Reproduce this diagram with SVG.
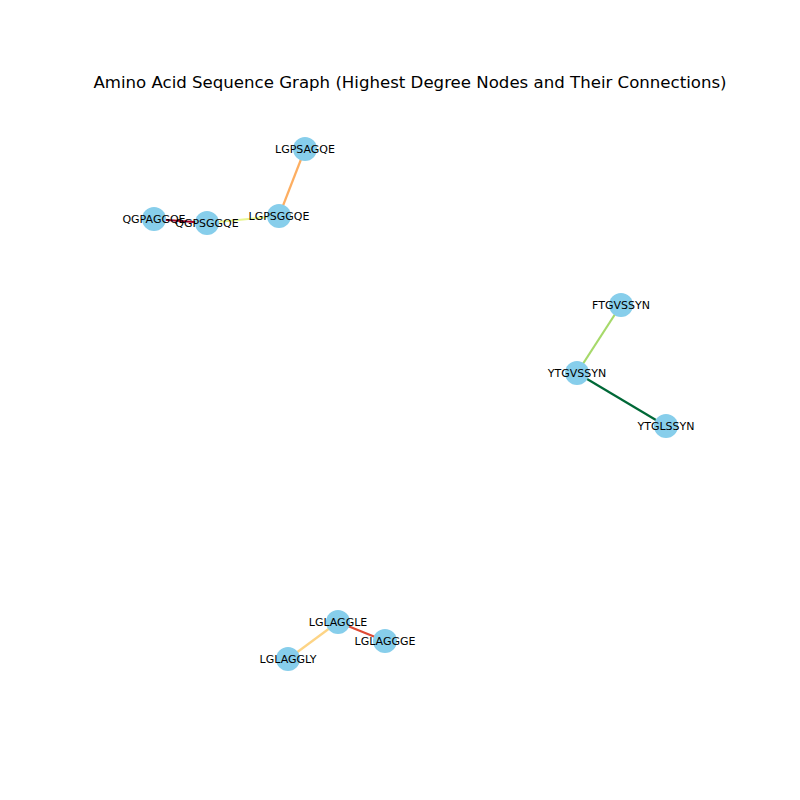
<svg xmlns="http://www.w3.org/2000/svg" width="800" height="800" viewBox="0 0 800 800">
<style>
.n{fill:#87ceeb}
.l{font-family:"DejaVu Sans",sans-serif;font-size:11px;fill:#000;text-anchor:middle;dominant-baseline:central}
.e{stroke-width:2.2;fill:none}
.t{font-family:"DejaVu Sans",sans-serif;font-size:16.6px;fill:#000;text-anchor:middle}
</style>
<rect width="800" height="800" fill="#fff"/>
<text class="t" x="410" y="88">Amino Acid Sequence Graph (Highest Degree Nodes and Their Connections)</text>
<g id="edges">
<line class="e" x1="154" y1="219" x2="207" y2="223" stroke="#a50026"/>
<line class="e" x1="207" y1="223" x2="279" y2="216" stroke="#e8f58f"/>
<line class="e" x1="279" y1="216" x2="305" y2="149" stroke="#fdae61"/>
<line class="e" x1="621" y1="305" x2="577" y2="373" stroke="#a6d96a"/>
<line class="e" x1="577" y1="373" x2="666" y2="426" stroke="#006837"/>
<line class="e" x1="338" y1="622" x2="385" y2="641" stroke="#e04a33"/>
<line class="e" x1="338" y1="622" x2="288" y2="659" stroke="#fdd485"/>
</g>
<g id="QGPAGGQE"><circle class="n" cx="154" cy="219" r="12"/><text class="l" x="154" y="219">QGPAGGQE</text></g>
<g id="QGPSGGQE"><circle class="n" cx="207" cy="223" r="12"/><text class="l" x="207" y="223">QGPSGGQE</text></g>
<g id="LGPSGGQE"><circle class="n" cx="279" cy="216" r="12"/><text class="l" x="279" y="216">LGPSGGQE</text></g>
<g id="LGPSAGQE"><circle class="n" cx="305" cy="149" r="12"/><text class="l" x="305" y="149">LGPSAGQE</text></g>
<g id="FTGVSSYN"><circle class="n" cx="621" cy="305" r="12"/><text class="l" x="621" y="305">FTGVSSYN</text></g>
<g id="YTGVSSYN"><circle class="n" cx="577" cy="373" r="12"/><text class="l" x="577" y="373">YTGVSSYN</text></g>
<g id="YTGLSSYN"><circle class="n" cx="666" cy="426" r="12"/><text class="l" x="666" y="426">YTGLSSYN</text></g>
<g id="LGLAGGLE"><circle class="n" cx="338" cy="622" r="12"/><text class="l" x="338" y="622">LGLAGGLE</text></g>
<g id="LGLAGGGE"><circle class="n" cx="385" cy="641" r="12"/><text class="l" x="385" y="641">LGLAGGGE</text></g>
<g id="LGLAGGLY"><circle class="n" cx="288" cy="659" r="12"/><text class="l" x="288" y="659">LGLAGGLY</text></g>
</svg>
